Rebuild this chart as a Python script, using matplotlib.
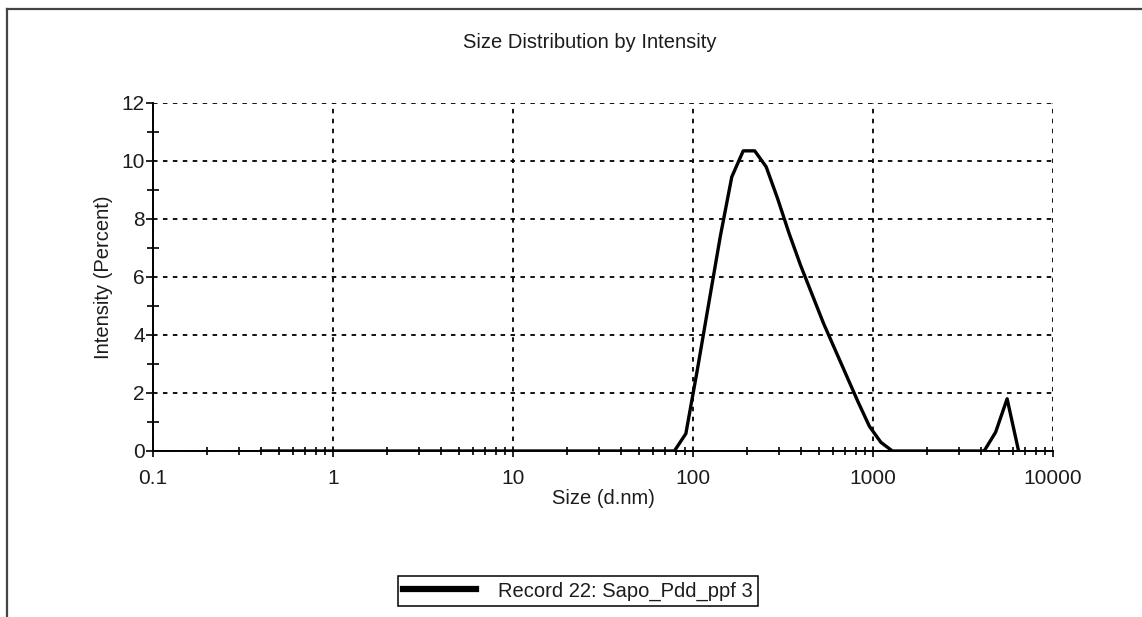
import numpy as np
import matplotlib
matplotlib.use("Agg")
import matplotlib.pyplot as plt
from matplotlib.lines import Line2D
from matplotlib.ticker import FixedLocator, FixedFormatter, LogLocator, NullFormatter

plt.rcParams['font.family'] = ['Liberation Sans', 'DejaVu Sans']

# size classes (d.nm) and intensity (%)
sizes = [0.4, 0.4632, 0.5365, 0.6213, 0.7195, 0.8332, 0.9650, 1.117, 1.294, 1.499,
         1.736, 2.010, 2.328, 2.696, 3.122, 3.615, 4.187, 4.849, 5.615, 6.503,
         7.531, 8.721, 10.10, 11.70, 13.54, 15.69, 18.17, 21.04, 24.36, 28.21,
         32.67, 37.84, 43.82, 50.75, 58.77, 68.06, 78.82, 91.28, 105.7, 122.4,
         141.8, 164.2, 190.1, 220.2, 255.0, 295.3, 342.0, 396.1, 458.7, 531.2,
         615.1, 712.4, 825.0, 955.4, 1106, 1281, 1484, 1718, 1990, 2305,
         2669, 3091, 3580, 4145, 4801, 5560, 6439]
intensity = [0.0] * 36 + [0.0, 0.6, 2.8, 5.1,
             7.4, 9.45, 10.35, 10.35, 9.8, 8.7, 7.5, 6.4, 5.4, 4.4,
             3.5, 2.6, 1.7, 0.85, 0.3, 0.0, 0.0, 0.0, 0.0, 0.0,
             0.0, 0.0, 0.0, 0.0, 0.65, 1.8, 0.0]

x_ticks = [0.1, 1, 10, 100, 1000, 10000]
x_labels = ['0.1', '1', '10', '100', '1000', '10000']
y_ticks = [0, 2, 4, 6, 8, 10, 12]

W, H = 1142, 617
fig = plt.figure(figsize=(W / 100, H / 100), dpi=100)
ax = fig.add_axes([153 / W, 1 - 451 / H, 900 / W, 348 / H])

ax.plot(sizes, intensity, color='black', lw=2.4, solid_joinstyle='round',
        label='Record 22: Sapo_Pdd_ppf 3', zorder=3)

ax.set_xscale('log')
ax.set_xlim(0.1, 10000)
ax.set_ylim(0, 12)

ax.xaxis.set_major_locator(FixedLocator(x_ticks))
ax.xaxis.set_major_formatter(FixedFormatter(x_labels))
ax.xaxis.set_minor_locator(LogLocator(base=10, subs=np.arange(2, 10)))
ax.xaxis.set_minor_formatter(NullFormatter())
ax.set_yticks(y_ticks)
ax.set_yticks(np.arange(1, 12, 2), minor=True)

ax.grid(True, which='major', color='black', lw=1.3, linestyle=(0, (2.5, 3)))

for s in ['top', 'right']:
    ax.spines[s].set_visible(False)
for s in ['left', 'bottom']:
    ax.spines[s].set_linewidth(1.4)
    ax.spines[s].set_color('black')

tc = '#1c1c1c'
ax.tick_params(axis='x', which='major', direction='out', length=4, width=1.2,
               pad=9, labelsize=15, labelcolor=tc)
ax.tick_params(axis='x', which='minor', direction='inout', length=6, width=1.2)
ax.tick_params(axis='y', which='major', direction='out', length=5, width=1.2,
               pad=1, labelsize=15, labelcolor=tc)
ax.tick_params(axis='y', which='minor', direction='inout', length=9, width=1.2)

ax.set_xlabel('Size (d.nm)', fontsize=14.5, color=tc, labelpad=1)
ax.set_ylabel('Intensity (Percent)', fontsize=14.5, color=tc, labelpad=6)

fig.text(590 / W, 1 - 42 / H, 'Size Distribution by Intensity', fontsize=14.5,
         color=tc, ha='center', va='center')

leg = ax.legend(loc='center', bbox_to_anchor=(578 / W, 1 - 591 / H),
                bbox_transform=fig.transFigure, frameon=True, fancybox=False,
                edgecolor='black', framealpha=1, fontsize=14.5,
                handlelength=3.6, handletextpad=1.1, borderpad=0.25,
                borderaxespad=0)
leg.get_frame().set_linewidth(1.1)
for line in leg.get_lines():
    line.set_linewidth(4.5)
for t in leg.get_texts():
    t.set_color(tc)

# outer frame (left and top edges visible)
fig.add_artist(Line2D([7 / W, 7 / W], [0, 1 - 9 / H], transform=fig.transFigure,
                      color='#444444', lw=1.6))
fig.add_artist(Line2D([7 / W, 1], [1 - 9 / H, 1 - 9 / H], transform=fig.transFigure,
                      color='#444444', lw=1.6))

fig.savefig('out.png', dpi=100)
